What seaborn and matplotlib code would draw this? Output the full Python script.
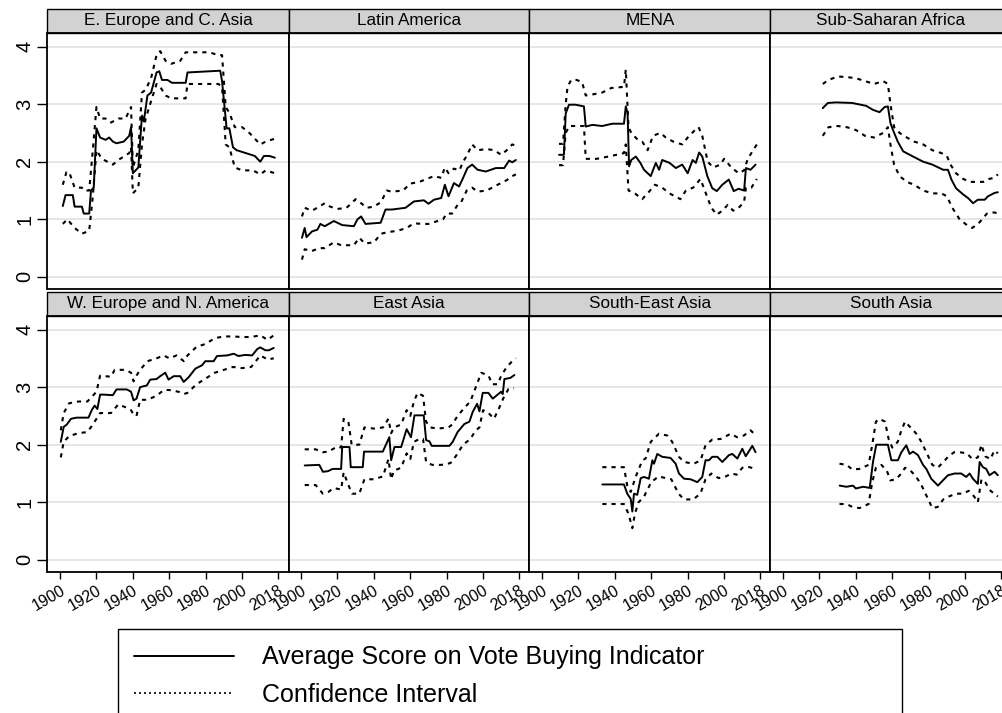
import matplotlib
matplotlib.use("Agg")
import matplotlib.pyplot as plt
import matplotlib.patches as mpatches
from matplotlib.lines import Line2D
import pandas as pd
import seaborn as sns


REGIONS = [
    "E. Europe and C. Asia", "Latin America", "MENA", "Sub-Saharan Africa",
    "W. Europe and N. America", "East Asia", "South-East Asia", "South Asia",
]

# (year, value) pairs
eeca_mean = [(1901.5, 1.23), (1903, 1.42), (1907, 1.42), (1908, 1.22), (1912, 1.22), (1913, 1.1), (1916, 1.1),
             (1917, 1.5), (1918.5, 1.55), (1920, 2.58), (1922, 2.42), (1925, 2.38), (1927, 2.42), (1929, 2.35),
             (1931, 2.32), (1935, 2.35), (1938, 2.45), (1939, 2.6), (1940, 1.8), (1941.5, 1.85), (1943, 1.9),
             (1945, 2.8), (1946, 2.7), (1948, 3.15), (1950, 3.2), (1953, 3.55), (1954.5, 3.57), (1956, 3.42),
             (1959, 3.42), (1961.5, 3.37), (1969, 3.37), (1970, 3.55), (1982, 3.57), (1988, 3.58), (1989, 3.4),
             (1991.5, 2.58), (1993, 2.58), (1995, 2.25), (1997, 2.2), (2002, 2.15), (2007, 2.1), (2010, 2.0),
             (2012, 2.1), (2015, 2.1), (2018, 2.07)]
eeca_hi = [(1901.5, 1.6), (1903.5, 1.82), (1905, 1.82), (1908, 1.55), (1912, 1.55), (1913, 1.5), (1916, 1.5),
           (1918, 2.2), (1920, 2.95), (1922, 2.75), (1925, 2.75), (1928, 2.68), (1932, 2.75), (1936, 2.75),
           (1939, 2.95), (1940, 1.9), (1943, 2.2), (1945, 3.2), (1947, 3.25), (1950, 3.45), (1953, 3.85),
           (1955, 3.92), (1958, 3.75), (1961, 3.7), (1966, 3.75), (1969, 3.9), (1975, 3.9), (1982, 3.9),
           (1987, 3.85), (1989, 3.85), (1991, 2.95), (1993, 2.85), (1996, 2.6), (2000, 2.6), (2004, 2.5),
           (2010, 2.3), (2013, 2.35), (2018, 2.4)]
eeca_lo = [(1901.5, 0.92), (1904, 1.0), (1908, 0.85), (1912, 0.75), (1916, 0.8), (1918, 1.4), (1920, 2.2),
           (1923, 2.05), (1926, 2.0), (1929, 1.95), (1933, 2.05), (1938, 2.15), (1939, 2.25), (1940, 1.45),
           (1943, 1.55), (1945, 2.3), (1947, 2.75), (1950, 3.05), (1953, 3.35), (1955, 3.3), (1958, 3.15),
           (1961, 3.1), (1969, 3.1), (1970, 3.35), (1982, 3.35), (1987, 3.35), (1989, 3.3), (1991, 2.3),
           (1993, 2.25), (1996, 1.9), (2000, 1.85), (2006, 1.85), (2010, 1.78), (2013, 1.85), (2018, 1.8)]

latam_mean = [(1900.5, 0.68), (1902, 0.85), (1903, 0.69), (1906, 0.79), (1909, 0.82), (1910.6, 0.92), (1913, 0.88),
              (1918, 0.97), (1922.6, 0.9), (1929, 0.88), (1931, 1.0), (1933, 1.05), (1935.4, 0.92), (1943.7, 0.94),
              (1946.4, 1.17), (1950, 1.17), (1957.4, 1.2), (1962, 1.31), (1967.5, 1.33), (1970, 1.27), (1973, 1.34),
              (1977, 1.37), (1979, 1.6), (1981, 1.4), (1984, 1.63), (1986.8, 1.57), (1988.6, 1.69), (1991.4, 1.89),
              (1994, 1.95), (1997, 1.86), (2001.5, 1.83), (2007, 1.89), (2011.6, 1.89), (2014.3, 2.02),
              (2016, 1.99), (2018, 2.03)]
latam_hi = [(1900.5, 1.05), (1902, 1.2), (1906, 1.15), (1910, 1.22), (1913, 1.28), (1916, 1.22), (1920, 1.18),
            (1925, 1.2), (1930, 1.35), (1933, 1.28), (1936, 1.2), (1940, 1.22), (1944, 1.3), (1947, 1.5),
            (1950, 1.48), (1956, 1.5), (1960, 1.62), (1965, 1.65), (1969, 1.7), (1973, 1.75), (1977, 1.72),
            (1979, 1.9), (1981, 1.8), (1984, 1.88), (1987, 1.85), (1989, 2.0), (1991, 2.1), (1994, 2.3),
            (1997, 2.2), (2002, 2.22), (2006, 2.2), (2010, 2.12), (2013, 2.2), (2016, 2.3), (2018, 2.28)]
latam_lo = [(1900.5, 0.3), (1902, 0.48), (1906, 0.45), (1910, 0.5), (1913, 0.5), (1918, 0.6), (1922, 0.55),
            (1929, 0.55), (1932, 0.68), (1935, 0.58), (1940, 0.6), (1944, 0.75), (1948, 0.78), (1953, 0.8),
            (1958, 0.85), (1962, 0.93), (1967, 0.92), (1970, 0.92), (1975, 0.97), (1978, 1.0), (1980, 1.1),
            (1983, 1.1), (1986, 1.25), (1988, 1.3), (1991, 1.5), (1994, 1.55), (1997, 1.48), (2002, 1.5),
            (2008, 1.6), (2013, 1.68), (2016, 1.75), (2018, 1.78)]

mena_mean = [(1909.3, 2.12), (1912, 2.12), (1913, 2.84), (1914.8, 2.99), (1918.4, 2.99), (1923, 2.96), (1924, 2.61),
             (1927.6, 2.64), (1933, 2.62), (1938.6, 2.66), (1945, 2.66), (1946, 2.96), (1947, 2.84), (1947.8, 1.92),
             (1949, 2.03), (1951.5, 2.09), (1954, 1.98), (1956, 1.86), (1959.7, 1.75), (1962.5, 1.98),
             (1964.3, 1.86), (1966, 2.03), (1970, 1.98), (1973.5, 1.89), (1977, 1.95), (1980, 1.8), (1982.7, 2.03),
             (1984.5, 1.98), (1986.3, 2.16), (1988, 2.09), (1990.8, 1.75), (1993.5, 1.54), (1996, 1.49),
             (1999, 1.6), (2002.6, 1.69), (2005.3, 1.49), (2008, 1.53), (2011, 1.5), (2012, 1.89), (2014.5, 1.86),
             (2017.3, 1.95)]
mena_hi = [(1909.3, 2.31), (1911.5, 2.31), (1913, 3.0), (1914, 3.3), (1916, 3.42), (1919, 3.42), (1922, 3.38),
           (1924, 3.15), (1928, 3.17), (1933, 3.2), (1938, 3.28), (1945, 3.3), (1946, 3.6), (1947.5, 2.6),
           (1949, 2.5), (1952, 2.4), (1955, 2.35), (1958, 2.2), (1961, 2.45), (1965, 2.5), (1968, 2.42),
           (1972, 2.35), (1977, 2.3), (1980, 2.42), (1984, 2.55), (1986, 2.6), (1988, 2.45), (1991, 2.0),
           (1994, 1.9), (1998, 1.95), (2000, 2.05), (2004, 1.9), (2008, 1.8), (2011, 1.85), (2013, 2.05),
           (2016, 2.2), (2018, 2.3)]
mena_lo = [(1909.3, 1.94), (1911.5, 1.94), (1913, 2.5), (1915, 2.62), (1923, 2.62), (1924, 2.05), (1930, 2.05),
           (1938, 2.1), (1945, 2.15), (1946, 2.3), (1947.5, 1.5), (1951, 1.45), (1955, 1.35), (1958, 1.45),
           (1962, 1.6), (1966, 1.55), (1970, 1.45), (1976, 1.35), (1979, 1.5), (1983, 1.55), (1987, 1.7),
           (1990, 1.45), (1993, 1.2), (1996, 1.08), (1999, 1.15), (2002, 1.25), (2005, 1.15), (2008, 1.2),
           (2011, 1.3), (2012, 1.55), (2015, 1.55), (2018, 1.7)]

ssa_mean = [(1921.8, 2.93), (1924.6, 3.02), (1929, 3.03), (1938, 3.02), (1945.7, 2.97), (1949.4, 2.9), (1953, 2.86),
            (1955.8, 2.95), (1957.6, 2.96), (1959, 2.67), (1960.4, 2.55), (1963, 2.35), (1966, 2.18),
            (1971.4, 2.09), (1977, 2.0), (1982, 1.95), (1988, 1.86), (1990.6, 1.86), (1992.5, 1.69), (1995, 1.54),
            (1999, 1.43), (2001.6, 1.37), (2004.4, 1.28), (2007, 1.34), (2010.8, 1.34), (2012.6, 1.4),
            (2016.3, 1.46), (2018, 1.47)]
ssa_hi = [(1921.8, 3.35), (1925, 3.42), (1930, 3.48), (1935, 3.47), (1940, 3.45), (1945, 3.4), (1950, 3.35),
          (1955, 3.4), (1957.6, 3.35), (1959, 3.0), (1961, 2.6), (1964, 2.5), (1968, 2.42), (1972, 2.35),
          (1977, 2.3), (1982, 2.2), (1987, 2.15), (1990, 2.1), (1992, 1.95), (1995, 1.8), (1999, 1.7),
          (2003, 1.65), (2007, 1.65), (2010, 1.65), (2013, 1.7), (2016, 1.72), (2018, 1.78)]
ssa_lo = [(1921.8, 2.45), (1925, 2.6), (1930, 2.62), (1935, 2.6), (1940, 2.55), (1945, 2.45), (1950, 2.42),
          (1955, 2.5), (1957.6, 2.6), (1959, 2.3), (1961, 1.95), (1964, 1.75), (1968, 1.65), (1972, 1.6),
          (1977, 1.5), (1982, 1.45), (1987, 1.45), (1990, 1.4), (1993, 1.2), (1997, 1.0), (2001, 0.9),
          (2004, 0.85), (2008, 0.95), (2012, 1.1), (2016, 1.12), (2018, 1.1)]

weur_mean = [(1900.4, 2.05), (1902, 2.31), (1903.7, 2.35), (1906, 2.45), (1909, 2.47), (1915.6, 2.47),
             (1917.4, 2.6), (1919, 2.68), (1920.5, 2.62), (1922, 2.87), (1924, 2.87), (1929, 2.86), (1931, 2.96),
             (1936.7, 2.96), (1939, 2.92), (1940.4, 2.77), (1942, 2.8), (1944, 3.0), (1947.7, 3.03), (1949.5, 3.13),
             (1953, 3.14), (1955, 3.19), (1957.8, 3.25), (1959.6, 3.13), (1962.4, 3.19), (1966, 3.19),
             (1967.9, 3.09), (1970.6, 3.17), (1974.3, 3.32), (1978, 3.38), (1979.8, 3.45), (1984.4, 3.45),
             (1986.2, 3.54), (1991.7, 3.55), (1995.4, 3.58), (1998, 3.54), (2001.8, 3.56), (2005.5, 3.55),
             (2008.3, 3.66), (2010, 3.69), (2012.8, 3.64), (2014.7, 3.64), (2017.4, 3.68)]
weur_hi = [(1900.4, 2.25), (1902, 2.55), (1905, 2.72), (1910, 2.75), (1915, 2.75), (1918, 2.85), (1920, 2.92),
           (1922, 3.2), (1928, 3.18), (1930, 3.3), (1936, 3.3), (1939, 3.25), (1940.4, 3.1), (1942, 3.2),
           (1944, 3.3), (1948, 3.45), (1953, 3.5), (1957, 3.55), (1960, 3.5), (1964, 3.55), (1968, 3.45),
           (1970, 3.55), (1975, 3.7), (1980, 3.75), (1985, 3.85), (1990, 3.88), (1995, 3.88), (2000, 3.87),
           (2005, 3.87), (2010, 3.9), (2014, 3.82), (2017.4, 3.9)]
weur_lo = [(1900.4, 1.78), (1902, 2.05), (1905, 2.15), (1910, 2.2), (1915, 2.22), (1918, 2.35), (1920, 2.45),
           (1922, 2.55), (1928, 2.55), (1932, 2.7), (1936, 2.65), (1939, 2.6), (1940.4, 2.52), (1942, 2.5),
           (1944, 2.78), (1948, 2.78), (1953, 2.85), (1957, 2.95), (1960, 2.95), (1965, 2.92), (1968, 2.88),
           (1970, 2.9), (1975, 3.05), (1980, 3.15), (1985, 3.25), (1990, 3.3), (1995, 3.35), (2000, 3.33),
           (2005, 3.35), (2010, 3.55), (2014, 3.48), (2017.4, 3.5)]

easia_mean = [(1902, 1.64), (1910, 1.65), (1912, 1.53), (1914.7, 1.54), (1917.4, 1.58), (1922, 1.58),
              (1922.6, 1.96), (1926.6, 1.96), (1927.3, 1.61), (1933.9, 1.61), (1934.6, 1.88), (1944.9, 1.88),
              (1948.5, 2.13), (1949.5, 1.73), (1951.3, 1.96), (1955, 1.96), (1958, 2.27), (1960.4, 2.13),
              (1962.3, 2.51), (1967.4, 2.51), (1968.7, 2.08), (1970.5, 2.06), (1971.8, 1.98), (1981.5, 1.98),
              (1983.3, 2.05), (1986, 2.22), (1989.7, 2.36), (1992.5, 2.4), (1994.3, 2.57), (1996.7, 2.71),
              (1998, 2.58), (1999.8, 2.9), (2002.9, 2.9), (2005.3, 2.8), (2008, 2.87), (2009.9, 2.92),
              (2010.8, 2.88), (2011.7, 3.14), (2015, 3.16), (2017.2, 3.21)]
easia_hi = [(1902, 1.92), (1908, 1.92), (1912, 1.87), (1915, 1.88), (1920, 1.97), (1922, 1.95), (1923.4, 2.45),
            (1926, 2.4), (1927.8, 2.0), (1932, 2.0), (1934.8, 2.3), (1940, 2.28), (1945, 2.3), (1948, 2.45),
            (1949.5, 2.2), (1951, 2.3), (1955, 2.35), (1958, 2.6), (1960, 2.5), (1962, 2.75), (1964, 2.9),
            (1967, 2.85), (1968.7, 2.4), (1971, 2.3), (1975, 2.28), (1981, 2.3), (1983, 2.35), (1986, 2.5),
            (1990, 2.65), (1993, 2.75), (1996, 3.0), (1999, 3.25), (2003, 3.2), (2005, 3.05), (2008, 3.05),
            (2010, 3.2), (2013, 3.35), (2016, 3.45), (2018, 3.5)]
easia_lo = [(1902, 1.3), (1908, 1.3), (1912, 1.15), (1915, 1.18), (1918, 1.25), (1922, 1.22), (1923.4, 1.52),
            (1926, 1.3), (1928, 1.15), (1932, 1.15), (1934.8, 1.4), (1940, 1.4), (1945, 1.45), (1948, 1.75),
            (1949.5, 1.4), (1951, 1.55), (1955, 1.6), (1958, 1.85), (1960, 1.75), (1962, 2.05), (1965, 2.1),
            (1967, 2.1), (1968.7, 1.7), (1972, 1.65), (1977, 1.65), (1982, 1.68), (1985, 1.8), (1989, 2.0),
            (1993, 2.1), (1996, 2.25), (1998, 2.3), (2000, 2.6), (2003, 2.55), (2006, 2.45), (2009, 2.65),
            (2011, 2.8), (2014, 2.97), (2017, 2.98)]

seasia_mean = [(1933.1, 1.31), (1945, 1.31), (1946.8, 1.15), (1948.7, 1.06), (1949.6, 0.84), (1950.5, 1.15),
               (1952.3, 1.13), (1954.2, 1.42), (1956, 1.44), (1958.7, 1.41), (1960.6, 1.73), (1961.5, 1.67),
               (1963.3, 1.84), (1966, 1.79), (1970.6, 1.77), (1973.4, 1.67), (1975.2, 1.5), (1978, 1.41),
               (1981.6, 1.4), (1985.3, 1.35), (1988, 1.44), (1989.8, 1.73), (1991.7, 1.73), (1993.5, 1.79),
               (1996.3, 1.79), (1999, 1.7), (2002.7, 1.82), (2004.5, 1.84), (2007.3, 1.76), (2010, 1.93),
               (2011.9, 1.8), (2015.5, 1.98), (2017.3, 1.87)]
seasia_hi = [(1933.1, 1.61), (1945, 1.61), (1946.8, 1.29), (1948.7, 1.18), (1951.4, 1.44), (1955.1, 1.73),
             (1956.9, 1.76), (1959.7, 2.05), (1964.2, 2.19), (1968.8, 2.16), (1971.5, 2.05), (1975.2, 1.79),
             (1978, 1.7), (1983.4, 1.67), (1987.1, 1.73), (1989.8, 1.99), (1993.5, 2.09), (1998.1, 2.1),
             (2003.6, 2.19), (2007.2, 2.13), (2010.9, 2.16), (2014.5, 2.25), (2017.3, 2.17)]
seasia_lo = [(1933.1, 0.97), (1945, 0.97), (1947.5, 0.8), (1949.6, 0.55), (1951, 0.8), (1953, 1.0), (1956, 1.1),
             (1960, 1.35), (1964, 1.45), (1968, 1.42), (1971, 1.4), (1975, 1.15), (1978, 1.05), (1983, 1.05),
             (1987, 1.15), (1989.8, 1.4), (1993, 1.5), (1997, 1.42), (2001, 1.45), (2004, 1.5), (2007, 1.48),
             (2010, 1.6), (2013, 1.62), (2015, 1.6), (2017.3, 1.55)]

sasia_mean = [(1931.1, 1.29), (1934.8, 1.27), (1938.4, 1.29), (1940, 1.24), (1944, 1.27), (1947.6, 1.25),
              (1949.4, 1.7), (1951.2, 2.0), (1957.6, 2.0), (1959.5, 1.73), (1963.1, 1.73), (1965, 1.87),
              (1967.7, 1.99), (1969.5, 1.84), (1971.4, 1.88), (1974.1, 1.82), (1976.9, 1.65), (1978.7, 1.58),
              (1981.4, 1.41), (1985.1, 1.29), (1987.8, 1.38), (1990.6, 1.47), (1994.2, 1.5), (1997.9, 1.5),
              (2000.6, 1.44), (2002.5, 1.5), (2004.3, 1.41), (2007, 1.32), (2008, 1.7), (2009.8, 1.61),
              (2011.6, 1.58), (2013.4, 1.47), (2016.2, 1.53), (2018, 1.47)]
sasia_hi = [(1931, 1.67), (1935, 1.65), (1938, 1.57), (1942, 1.58), (1947, 1.65), (1949, 2.0), (1951, 2.4),
            (1953, 2.45), (1956, 2.4), (1958, 2.1), (1960, 1.95), (1963, 2.05), (1965, 2.25), (1967, 2.4),
            (1970, 2.3), (1973, 2.2), (1976, 2.05), (1979, 1.85), (1982, 1.65), (1985, 1.6), (1988, 1.7),
            (1991, 1.8), (1994, 1.87), (1997, 1.87), (2001, 1.85), (2004, 1.75), (2007, 1.78), (2009, 2.0),
            (2011, 1.8), (2014, 1.75), (2016, 1.9), (2018, 1.85)]
sasia_lo = [(1931, 0.97), (1935, 0.97), (1938, 0.92), (1942, 0.9), (1947, 0.97), (1949, 1.35), (1951, 1.6),
            (1954, 1.65), (1957, 1.55), (1959, 1.38), (1962, 1.4), (1965, 1.5), (1967, 1.6), (1970, 1.55),
            (1973, 1.45), (1976, 1.3), (1979, 1.1), (1982, 0.9), (1985, 0.92), (1988, 1.05), (1991, 1.1),
            (1995, 1.15), (1999, 1.15), (2002, 1.2), (2005, 1.1), (2007, 1.0), (2009, 1.4), (2011, 1.35),
            (2014, 1.2), (2016, 1.15), (2018, 1.1)]

SERIES = [
    (eeca_mean, eeca_lo, eeca_hi), (latam_mean, latam_lo, latam_hi), (mena_mean, mena_lo, mena_hi),
    (ssa_mean, ssa_lo, ssa_hi), (weur_mean, weur_lo, weur_hi), (easia_mean, easia_lo, easia_hi),
    (seasia_mean, seasia_lo, seasia_hi), (sasia_mean, sasia_lo, sasia_hi),
]

YTICKS = [0, 1, 2, 3, 4]
XTICKS = [1900, 1920, 1940, 1960, 1980, 2000, 2020]
XTICK_LABELS = ["1900", "1920", "1940", "1960", "1980", "2000", "2018"]
LEGEND_LABELS = ["Average Score on Vote Buying Indicator", "Confidence Interval"]

sns.set_style("white")
plt.rcParams["font.family"] = ["Liberation Sans", "DejaVu Sans"]
plt.rcParams["text.color"] = "black"
plt.rcParams["xtick.color"] = "black"
plt.rcParams["ytick.color"] = "black"

rows = []
for region, (mean, lo, hi) in zip(REGIONS, SERIES):
    for band, pts in (("mean", mean), ("lo", lo), ("hi", hi)):
        for yr, val in pts:
            rows.append({"region": region, "band": band, "year": yr, "value": val})
df = pd.DataFrame(rows)

W, H = 1003, 713
fig = plt.figure(figsize=(W / 100, H / 100), dpi=100)

col_left = [47.5, 288.5, 529.5, 770.5]
row_top = [33, 316]
panel_w, panel_h, strip_h = 241, 256, 24.5
ci_dash = (0, (2.0, 2.4))

for i, region in enumerate(REGIONS):
    r, c = divmod(i, 4)
    ax = fig.add_axes([col_left[c] / W, 1 - (row_top[r] + panel_h) / H, panel_w / W, panel_h / H])
    sub = df[df["region"] == region]
    for band in ("lo", "hi"):
        sns.lineplot(data=sub[sub["band"] == band], x="year", y="value", ax=ax, color="black",
                     lw=1.5, linestyle=ci_dash, estimator=None, sort=False, legend=False)
    sns.lineplot(data=sub[sub["band"] == "mean"], x="year", y="value", ax=ax, color="black",
                 lw=1.4, estimator=None, sort=False, legend=False)

    ax.set(xlabel="", ylabel="", xlim=(1893.1, 2025.5), ylim=(-0.21, 4.235))
    ax.set_yticks(YTICKS)
    ax.yaxis.grid(True, color="#e4e4e4", lw=1.3)
    ax.xaxis.grid(False)
    ax.set_axisbelow(True)
    for sp in ax.spines.values():
        sp.set_color("black")
        sp.set_linewidth(1.3)

    if c == 0:
        ax.tick_params(axis="y", left=True, length=7, width=1, labelsize=14.5, pad=2.5, labelrotation=90)
        for lab in ax.get_yticklabels():
            lab.set_va("center")
    else:
        ax.tick_params(axis="y", left=False, labelleft=False)

    if r == 1:
        ax.set_xticks(XTICKS, labels=XTICK_LABELS)
        ax.tick_params(axis="x", bottom=True, length=5, width=1, labelsize=11.5, pad=3)
        for lab in ax.get_xticklabels():
            lab.set_rotation(30)
            lab.set_ha("right")
            lab.set_rotation_mode("anchor")
    else:
        ax.set_xticks(XTICKS)
        ax.tick_params(axis="x", bottom=False, labelbottom=False)

    sh = strip_h / panel_h
    ax.add_patch(mpatches.Rectangle((0, 1), 1, sh, transform=ax.transAxes, clip_on=False,
                                    facecolor="#d2d2d2", edgecolor="black", lw=1.0))
    ax.text(0.5, 1 + sh / 2, region, transform=ax.transAxes, ha="center", va="center",
            fontsize=12.3, color="black")

handles = [Line2D([], [], color="black", lw=1.4),
           Line2D([], [], color="black", lw=1.2, linestyle=(0, (1.2, 1.8)))]
leg = fig.legend(handles, LEGEND_LABELS, loc="upper left",
                 bbox_to_anchor=(118 / W, 0, 784 / W, 1 - 629 / H), mode="expand",
                 borderaxespad=0, fontsize=18, handlelength=4, handletextpad=1.1,
                 borderpad=0.65, labelspacing=0.55, fancybox=False, framealpha=1, edgecolor="black")
leg.get_frame().set_linewidth(1.0)
for t in leg.get_texts():
    t.set_color("black")

fig.savefig("out.png", dpi=100)
